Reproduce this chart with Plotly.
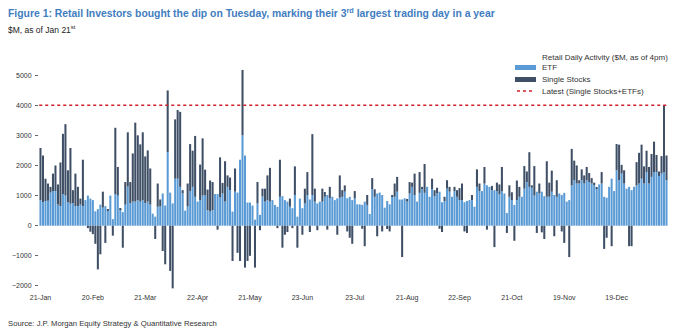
import pandas as pd
import plotly.graph_objects as go

# Trading calendar: NYSE sessions from 21-Jan-2025 to 21-Jan-2026
holidays = ["2025-02-17", "2025-04-18", "2025-05-26", "2025-06-19", "2025-07-04",
            "2025-09-01", "2025-11-27", "2025-12-25", "2026-01-01", "2026-01-19"]
start_date = "2025-01-21"
end_date = "2026-01-21"

# Retail daily net flows, $M (one row = 21 sessions)
etf = [
    850, 780, 820, 830, 1100, 1150, 1150, 700, 650, 1050, 1000, 780, 730, 750, 650, 650, 700, 650, 850, 1000, 900,
    850, 480, 550, 700, 600, 650, 500, 1000, 220, 1050, 1000, 550, 450, 700, 1300, 750, 800, 800, 850, 800, 850,
    750, 800, 700, 400, 300, 630, 640, 1070, 670, 2440, 1100, 740, 1560, 1560, 1290, 1070, 500, 640, 1150, 1290, 960,
    800, 850, 1000, 1020, 520, 470, 520, 1050, 1050, 940, 1070, 800, 1290, 1180, 470, 1130, 1100, 2190, 3000, 2330, 770,
    770, 670, 200, 740, 360, 970, 800, 850, 800, 850, 690, 630, 960, 980, 850, 800, 630, 580, 1020, 300, 900,
    580, 740, 1020, 870, 1020, 800, 740, 800, 800, 960, 1020, 910, 960, 850, 910, 930, 960, 1130, 910, 960, 850,
    910, 710, 710, 690, 800, 690, 390, 1210, 960, 1070, 1100, 1020, 600, 820, 710, 960, 960, 1130, 870, 870, 910,
    800, 1070, 1290, 1020, 800, 1090, 1230, 1090, 1290, 960, 1210, 980, 1070, 1130, 780, 820, 1230, 1130, 960, 1150, 960,
    850, 850, 780, 820, 850, 850, 630, 1290, 1150, 1150, 1400, 1340, 1290, 1180, 1180, 1150, 1040, 1150, 1070, 420, 960,
    850, 690, 850, 960, 960, 1230, 1450, 1290, 1260, 1000, 1130, 1070, 1130, 980, 960, 960, 1130, 1020, 960, 1070, 1020,
    1090, 800, 850, 1340, 1510, 1400, 1400, 1510, 1400, 1510, 1450, 1400, 1340, 1230, 1370, 1400, 960, 930, 1290, 1560, 1150,
    1840, 1510, 1730, 1400, 1230, 1290, 1180, 1290, 1340, 1400, 1560, 1400, 1780, 1400, 1620, 1780, 1780, 1650, 1730, 1780, 1510,
]
single_stocks = [
    1730, 1550, 740, 570, 190, 580, 850, 670, 1450, 2000, 2370, 1060, 1850, 430, 1080, 640, 200, 1540, 0, -80, -200,
    -280, -600, -1450, -950, 530, -570, 30, 0, -330, 2200, 950, 30, -730, 750, 1800, 700, 1600, 2620, 2150, 1900, 2250,
    1550, 1700, 1200, 0, -440, 770, 230, -840, -1280, 2050, -1500, -2080, 1970, 2280, 2490, 110, 0, 760, 1560, 1200, 2020,
    0, 1180, 1900, 840, 680, 1030, 930, 0, -130, 1330, 350, 1340, 380, 420, -1170, 770, -900, -1170, 2170, -1390, -1170,
    -1000, 0, -1390, 710, -150, 260, 430, 820, 1120, 0, 0, -80, 1230, -730, -300, -210, 270, -80, 950, -730, 0,
    -300, 490, 760, -210, 2020, 430, -150, 0, 430, 160, -130, 380, 0, 0, -300, 740, 220, 210, -190, -400, -600,
    240, 0, 0, -100, -680, 330, 0, 370, 250, -350, 0, -190, 0, -110, -190, 60, 440, 490, 0, -1040, 0,
    90, 380, 140, 710, 0, 690, 60, 960, 0, 0, 350, 200, 190, -100, -210, 140, 280, 160, 0, 140, 220,
    400, 550, -190, -240, 0, 170, 0, 580, 250, 0, 550, -130, 0, 140, -710, 280, 330, 800, 0, -240, 380,
    260, -500, 650, 330, 0, 750, 350, 1150, 80, 980, -240, 330, -220, -440, 1180, 470, 700, -350, 550, 0, -190,
    -570, 0, -1040, 1210, 650, 600, 110, 360, 270, 440, 300, 180, 90, 30, 0, 380, -770, -400, 0, -680, 0,
    870, 1180, 290, 440, 0, -680, -680, 0, 770, 1020, 1130, 570, 710, 550, 760, 1010, 570, 150, 580, 2220, 820,
]
y_ticks = [-2000, -1000, 0, 1000, 2000, 3000, 4000, 5000]
label_every = 21

sessions = pd.date_range(start_date, end_date,
                         freq=pd.offsets.CustomBusinessDay(holidays=holidays))
n = min(len(sessions), len(etf), len(single_stocks))
sessions = sessions[:n]
idx = list(range(n))
etf = etf[:n]
single_stocks = single_stocks[:n]

# Reference level: combined flow of the Tuesday session
tuesday_pos = max(i for i, d in enumerate(sessions) if d.dayofweek == 1)
latest_total = etf[tuesday_pos] + single_stocks[tuesday_pos]

tick_pos = idx[::label_every]
tick_txt = [sessions[i].strftime("%d-%b") for i in tick_pos]

FONT = "Liberation Sans, Arial, sans-serif"
ETF_COL = "#5b9bd5"
SS_COL = "#3f4f66"
RED = "#d0202a"
TXT = "#333333"

W, H = 680, 333
ML, MR, MT, MB = 39, 12, 60, 41
PW, PH = W - ML - MR, H - MT - MB


def px_x(v):
    # page pixel -> paper fraction (x)
    return (v - ML) / PW


def px_y(v):
    # page pixel -> paper fraction (y)
    return (H - MB - v) / PH


fig = go.Figure()
fig.add_trace(go.Bar(x=idx, y=etf, name="ETF", marker=dict(color=ETF_COL, line_width=0)))
fig.add_trace(go.Bar(x=idx, y=single_stocks, name="Single Stocks",
                     marker=dict(color=SS_COL, line_width=0)))

fig.add_shape(type="line", xref="x", yref="y", x0=-0.5, x1=n - 0.5,
              y0=latest_total, y1=latest_total,
              line=dict(color=RED, width=1.6, dash="dot"))

# Legend block
legend_items = [
    ("bar", ETF_COL, "ETF", 67.5),
    ("bar", SS_COL, "Single Stocks", 79.5),
    ("dot", RED, "Latest (Single Stocks+ETFs)", 91),
]
fig.add_annotation(xref="paper", yref="paper", x=px_x(540), y=px_y(57.5),
                   xanchor="left", yanchor="middle", showarrow=False,
                   text="Retail Daily Activity ($M, as of 4pm)",
                   font=dict(family=FONT, size=8, color=TXT))
for kind, col, label, yy in legend_items:
    if kind == "bar":
        fig.add_shape(type="rect", xref="paper", yref="paper",
                      x0=px_x(515), x1=px_x(536), y0=px_y(yy - 2.5), y1=px_y(yy + 2.5),
                      fillcolor=col, line_width=0, layer="above")
    else:
        fig.add_shape(type="line", xref="paper", yref="paper",
                      x0=px_x(517), x1=px_x(535), y0=px_y(yy), y1=px_y(yy),
                      line=dict(color=col, width=1.6, dash="dot"), layer="above")
    fig.add_annotation(xref="paper", yref="paper", x=px_x(540), y=px_y(yy),
                       xanchor="left", yanchor="middle", showarrow=False, text=label,
                       font=dict(family=FONT, size=8, color=TXT))

# Titles and source
fig.add_annotation(xref="paper", yref="paper", x=px_x(6), y=px_y(12),
                   xanchor="left", yanchor="middle", showarrow=False,
                   text="<b>Figure 1: Retail Investors bought the dip on Tuesday, marking their 3<sup>rd</sup> largest trading day in a year</b>",
                   font=dict(family=FONT, size=10.4, color="#3f7dbf"))
fig.add_annotation(xref="paper", yref="paper", x=px_x(6), y=px_y(30),
                   xanchor="left", yanchor="middle", showarrow=False,
                   text="$M, as of Jan 21<sup>st</sup>",
                   font=dict(family=FONT, size=8.5, color="#222222"))
fig.add_annotation(xref="paper", yref="paper", x=px_x(6), y=px_y(323),
                   xanchor="left", yanchor="middle", showarrow=False,
                   text="Source: J.P. Morgan Equity Strategy & Quantitative Research",
                   font=dict(family=FONT, size=7.7, color=TXT))

fig.update_layout(
    width=W, height=H,
    margin=dict(l=ML, r=MR, t=MT, b=MB),
    barmode="relative",
    bargap=0.18,
    showlegend=False,
    plot_bgcolor="white",
    paper_bgcolor="white",
    font=dict(family=FONT, size=7.5, color=TXT),
)
fig.update_xaxes(range=[-0.6, n - 0.4], tickmode="array", tickvals=tick_pos,
                 ticktext=tick_txt, showgrid=False, zeroline=False, showline=False,
                 ticks="", tickfont=dict(size=7, color=TXT))
fig.update_yaxes(range=[-2200, 5500], tickmode="array", tickvals=y_ticks,
                 showgrid=False, zeroline=False, showline=False,
                 ticks="outside", ticklen=3, tickcolor="#666666", tickwidth=1,
                 ticklabelstandoff=2, tickfont=dict(size=7, color=TXT))

fig.write_html("out.html")
